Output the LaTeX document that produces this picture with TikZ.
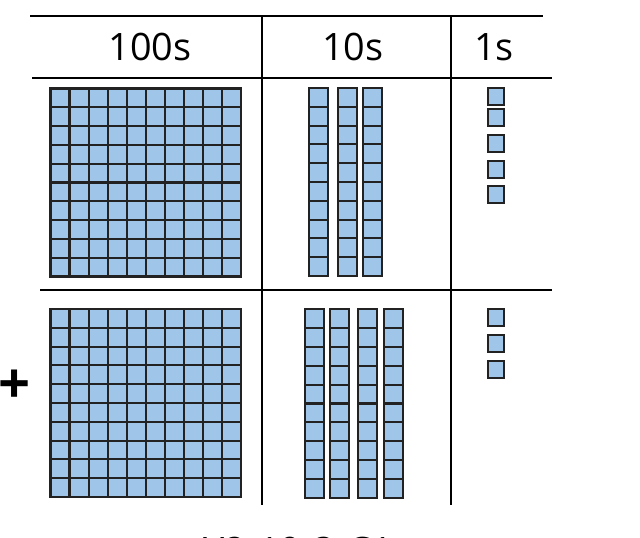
\documentclass[tikz,border=0pt]{standalone}
\usepackage{fontspec}
\setmainfont{Open Sans}
\usetikzlibrary{positioning}
\definecolor{cubeblue}{HTML}{9FC5E8}
\definecolor{cubeline}{HTML}{222222}
\tikzset{
  cube/.style={fill=cubeblue,draw=cubeline,line width=1.2pt},
  rule/.style={draw=black,line width=1.2pt},
  head/.style={font=\fontsize{21.5}{24}\selectfont}
}
\begin{document}
\begin{tikzpicture}[x=0.02cm,y=-0.02cm]
    %frame
    \useasboundingbox (0,0) rectangle (640,538);
    % Table rules
    \draw[rule] (30,16) -- (543,16);
    \draw[rule] (32,78) -- (552,78);
    \draw[rule] (40,290) -- (552,290);
    \draw[rule] (262,16) -- (262,505);
    \draw[rule] (451,16) -- (451,505);
    % Headers
    \node[head] (hundreds) at (150,47) {100s};
    \node[head] (tens) at (353,47) {10s};
    \node[head] (ones) at (494,47) {1s};
    % Hundreds
    \foreach \y in {88.5,309}
      \foreach \r in {0,...,9}
        \foreach \c in {0,...,9}
          \draw[cube] ({50.5+19.05*\c},{\y+18.8*\r}) rectangle +(19.05,18.8);
    % Tens
    \foreach \x in {309,338,363}
      \foreach \r in {0,...,9}
        \draw[cube] (\x,{88+18.8*\r}) rectangle +(19,18.8);
    \foreach \x in {305,330,358,384}
      \foreach \r in {0,...,9}
        \draw[cube] (\x,{309+18.9*\r}) rectangle +(19,18.9);
    % Ones
    \foreach \y in {88,109,135,161,186,309,335,361}
      \draw[cube] (488,\y) rectangle +(16,17);
    % Plus sign + code
    \node[font=\fontsize{32}{32}\selectfont\bfseries] (plus) at (15,387) {+};
    \node[head,anchor=base] (code) at (298,564) {Y2-10-3-C1};
\end{tikzpicture}
\end{document}
